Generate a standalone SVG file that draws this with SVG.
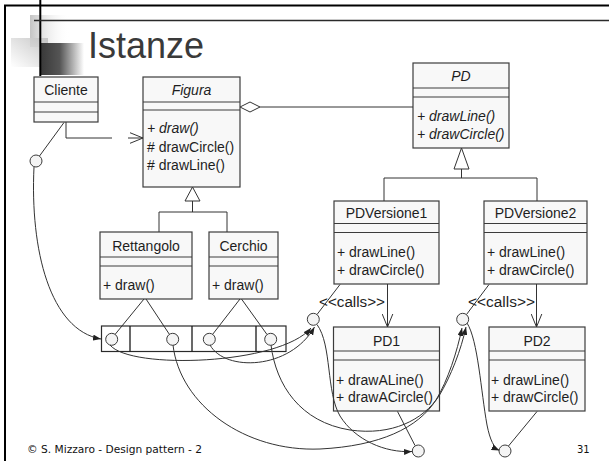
<svg xmlns="http://www.w3.org/2000/svg" width="609" height="461" viewBox="0 0 609 461">
  <style>
    .box { fill: #f8f8f8; stroke: #3c3c3c; stroke-width: 1.2; }
    .sep { stroke: #3c3c3c; stroke-width: 1.2; fill: none; }
    .t { font-family: "Liberation Sans", Arial, sans-serif; font-size: 14px; fill: #1e1e1e; }
    .c { text-anchor: middle; }
    .i { font-style: italic; }
    .ln { fill: none; stroke: #333; stroke-width: 1; }
    .obj { fill: #f4f4f4; stroke: #3c3c3c; stroke-width: 1; }
    .frame { stroke: #000; stroke-width: 2; fill: none; }
    .foot { font-family: "DejaVu Sans", Verdana, sans-serif; font-size: 10px; fill: #111; }
  </style>
  <defs>
    <marker id="open" viewBox="0 0 14 12" refX="13.5" refY="6" markerWidth="14" markerHeight="12" markerUnits="userSpaceOnUse" orient="auto">
      <path d="M0,0.5 L13.5,6 L0,11.5" fill="none" stroke="#333" stroke-width="1"/>
    </marker>
    <marker id="fill" viewBox="0 0 8 6" refX="8" refY="3" markerWidth="8" markerHeight="6" markerUnits="userSpaceOnUse" orient="auto">
      <path d="M0,0 L8,3 L0,6 Z" fill="#222"/>
    </marker>
    <linearGradient id="gDark" x1="0" y1="0" x2="1" y2="0">
      <stop offset="0" stop-color="#383838"/>
      <stop offset="0.45" stop-color="#555"/>
      <stop offset="1" stop-color="#fff"/>
    </linearGradient>
    <linearGradient id="gLight" x1="0" y1="0" x2="1" y2="0">
      <stop offset="0" stop-color="#c4c4c4"/>
      <stop offset="1" stop-color="#fff" stop-opacity="0"/>
    </linearGradient>
    <linearGradient id="gLight2" x1="0" y1="1" x2="1" y2="0">
      <stop offset="0" stop-color="#fff"/>
      <stop offset="1" stop-color="#bdbdbd"/>
    </linearGradient>
  </defs>

  <rect width="609" height="461" fill="#fff"/>

  <!-- slide frame and title decoration -->
  <g id="slide">
    <rect x="30" y="15" width="40" height="32" fill="url(#gLight)"/>
    <rect x="11" y="38" width="37" height="29" fill="url(#gLight2)" opacity="0.85"/>
    <rect x="40" y="43" width="44" height="32" fill="url(#gDark)"/>
    <line class="frame" x1="5" y1="5" x2="5" y2="461"/>
    <line class="frame" x1="4" y1="5.5" x2="609" y2="5.5"/>
    <line x1="40.3" y1="0" x2="40.3" y2="76" stroke="#000" stroke-width="2"/>
    <line x1="34" y1="20.5" x2="609" y2="20.5" stroke="#2a2a2a" stroke-width="1.5"/>
    <text x="88" y="58" font-family="Liberation Sans, Arial, sans-serif" font-size="36" fill="#3a3a3a">Istanze</text>
    <text class="foot" x="27" y="453" textLength="175" lengthAdjust="spacingAndGlyphs">© S. Mizzaro - Design pattern - 2</text>
    <text class="foot" x="577" y="453" font-size="11">31</text>
  </g>

  <!-- classes -->
  <g id="Cliente">
    <rect class="box" x="34" y="77" width="64" height="45"/>
    <path class="sep" d="M34,102 H98 M34,112 H98"/>
    <text class="t c" x="66" y="95">Cliente</text>
  </g>
  <g id="Figura">
    <rect class="box" x="143" y="77" width="97" height="110"/>
    <path class="sep" d="M143,102 H240 M143,110 H240"/>
    <text class="t c i" x="191.5" y="95">Figura</text>
    <text class="t i" x="147" y="133">+ draw()</text>
    <text class="t" x="147" y="152"># drawCircle()</text>
    <text class="t" x="147" y="170"># drawLine()</text>
  </g>
  <g id="PD">
    <rect class="box" x="413" y="63" width="96" height="85"/>
    <path class="sep" d="M413,88 H509 M413,97 H509"/>
    <text class="t c i" x="461" y="81">PD</text>
    <text class="t i" x="417" y="121">+ drawLine()</text>
    <text class="t i" x="417" y="139">+ drawCircle()</text>
  </g>
  <g id="Rettangolo">
    <rect class="box" x="100" y="232" width="92" height="67"/>
    <path class="sep" d="M100,257 H192 M100,266 H192"/>
    <text class="t c" x="146" y="251">Rettangolo</text>
    <text class="t" x="103" y="290">+ draw()</text>
  </g>
  <g id="Cerchio">
    <rect class="box" x="209" y="232" width="69" height="67"/>
    <path class="sep" d="M209,257 H278 M209,266 H278"/>
    <text class="t c" x="243.5" y="251">Cerchio</text>
    <text class="t" x="212" y="290">+ draw()</text>
  </g>
  <g id="PDVersione1">
    <rect class="box" x="334" y="201" width="105" height="83"/>
    <path class="sep" d="M334,223.5 H439 M334,232.5 H439"/>
    <text class="t c" x="386.5" y="218">PDVersione1</text>
    <text class="t" x="337" y="257">+ drawLine()</text>
    <text class="t" x="337" y="275">+ drawCircle()</text>
  </g>
  <g id="PDVersione2">
    <rect class="box" x="484" y="201" width="103" height="83"/>
    <path class="sep" d="M484,223.5 H587 M484,232.5 H587"/>
    <text class="t c" x="535.5" y="218">PDVersione2</text>
    <text class="t" x="487" y="257">+ drawLine()</text>
    <text class="t" x="487" y="275">+ drawCircle()</text>
  </g>
  <g id="PD1">
    <rect class="box" x="333.5" y="327" width="106" height="84"/>
    <path class="sep" d="M333.5,351 H439.5 M333.5,360 H439.5"/>
    <text class="t c" x="386.5" y="346">PD1</text>
    <text class="t" x="336" y="385">+ drawALine()</text>
    <text class="t" x="336" y="402">+ drawACircle()</text>
  </g>
  <g id="PD2">
    <rect class="box" x="489" y="327" width="96" height="84"/>
    <path class="sep" d="M489,351 H585 M489,360 H585"/>
    <text class="t c" x="537" y="346">PD2</text>
    <text class="t" x="491" y="385">+ drawLine()</text>
    <text class="t" x="491" y="402">+ drawCircle()</text>
  </g>

  <!-- object array -->
  <g id="array">
    <rect x="101.5" y="326" width="184.5" height="25.5" fill="#fff" stroke="#2a2a2a" stroke-width="1.2"/>
    <path d="M130,326 V351.5 M192,326 V351.5 M256,326 V351.5" stroke="#1a1a1a" stroke-width="1.3"/>
  </g>

  <!-- class relations -->
  <g id="connectors">
    <!-- Cliente to Figura association -->
    <path class="ln" d="M66,122 V138 H112"/>
    <path class="ln" d="M128,138 H143" marker-end="url(#open)"/>
    <!-- Figura aggregates PD -->
    <path d="M240,107 L250,102 L260,107 L250,112 Z" fill="#fff" stroke="#333" stroke-width="1"/>
    <path class="ln" d="M260,107 H413"/>
    <!-- Figura generalization -->
    <path d="M192.5,187 L200,201 L185,201 Z" fill="#fff" stroke="#333" stroke-width="1"/>
    <path class="ln" d="M192.5,201 V212 M159,232 V212 H227 V232"/>
    <!-- PD generalization -->
    <path d="M461.5,148 L469,169 L454,169 Z" fill="#fff" stroke="#333" stroke-width="1"/>
    <path class="ln" d="M461.5,169 V178 M384,201 V178 H537 V201"/>
    <!-- calls dependencies -->
    <path class="ln" d="M387.5,284 V327" marker-end="url(#open)"/>
    <path class="ln" d="M536.5,284 V327" marker-end="url(#open)"/>
    <text class="t" x="319" y="307" textLength="66" lengthAdjust="spacingAndGlyphs">&lt;&lt;calls&gt;&gt;</text>
    <text class="t" x="468" y="307" textLength="67" lengthAdjust="spacingAndGlyphs">&lt;&lt;calls&gt;&gt;</text>

    <!-- instance-of links -->
    <path class="ln" d="M64,122.5 L39.5,156"/>
    <path class="ln" d="M144,299 L115,334.5 M146,299 L169.5,334.5"/>
    <path class="ln" d="M240,299 L212.5,334.5 M241.5,299 L267,334.5"/>
    <path class="ln" d="M340,284.5 L317,314.5"/>
    <path class="ln" d="M489,284.5 L466.5,314.5"/>
    <path class="ln" d="M397.5,411.5 L415,445.5"/>
    <path class="ln" d="M537,411.5 L508.5,446"/>

    <!-- object references -->
    <path class="ln" d="M34,167 C30,250 50,330 101,339" marker-end="url(#fill)"/>
    <path class="ln" d="M110,345 C130,370 280,365 311,328" marker-end="url(#fill)"/>
    <path class="ln" d="M210,345 C225,372 290,370 314.5,327" marker-end="url(#fill)"/>
    <path class="ln" d="M173,345 C180,405 245,452 320,449 C380,446 418,428 436,400 C448,380 457,352 462,328" marker-end="url(#fill)"/>
    <path class="ln" d="M271,345 C276,385 300,422 350,430 C392,436 423,420 439,396 C451,376 461,350 466,327" marker-end="url(#fill)"/>
    <path class="ln" d="M317,324.5 C332,345 326,392 340,416 C355,440 385,453 412,451.5" marker-end="url(#fill)"/>
    <path class="ln" d="M467,323 C478,340 481,392 487,425 C490,440 494,448 499.5,450.5" marker-end="url(#fill)"/>
  </g>

  <!-- object instances -->
  <g id="instances">
    <circle class="obj" cx="36" cy="161" r="6"/>
    <circle class="obj" cx="111.7" cy="339.3" r="6"/>
    <circle class="obj" cx="172.7" cy="339.3" r="6"/>
    <circle class="obj" cx="209.3" cy="339.3" r="6"/>
    <circle class="obj" cx="270.7" cy="339.3" r="6"/>
    <circle class="obj" cx="313.3" cy="319.3" r="6"/>
    <circle class="obj" cx="462.7" cy="319.3" r="6"/>
    <circle class="obj" cx="418.3" cy="451" r="6"/>
    <circle class="obj" cx="505" cy="451" r="6"/>
  </g>
</svg>
